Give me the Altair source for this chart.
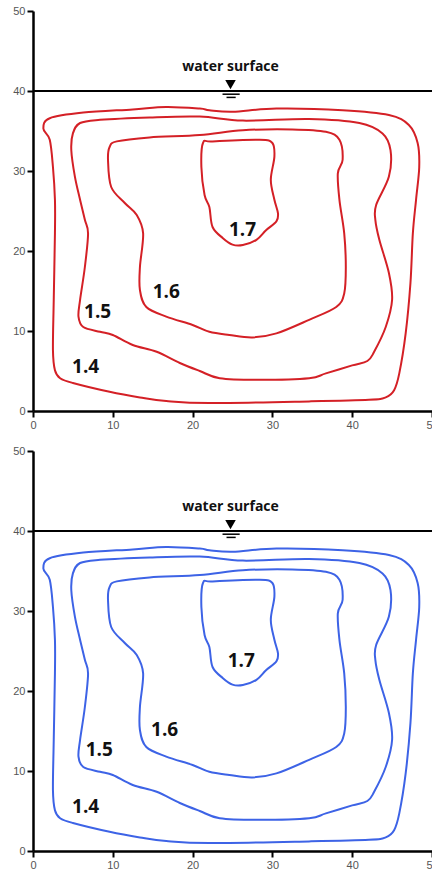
import altair as alt
import pandas as pd

# ---- data ----
ticks = [0, 5, 10, 15, 20, 25, 30, 35, 40, 45, 50]

c14_x = [1.3, 2.1, 6.3, 12.5, 16.7, 20.9, 22.1, 25.0, 30.5, 38.8, 44.6, 47.1, 48.2, 48.4, 48.0, 47.6, 47.3, 46.7, 45.9, 45.25, 44.2, 42.1, 34.6, 22.1, 16.7, 13.4, 9.6, 5.0, 3.4, 2.75, 2.5, 2.6, 2.75, 2.75, 2.5, 2.1]
c14_y = [35.3, 36.6, 37.3, 37.7, 38.0, 37.8, 37.6, 37.4, 37.8, 37.6, 37.0, 35.75, 33.5, 30.5, 26.4, 22.2, 16.0, 9.7, 4.7, 2.6, 1.7, 1.4, 1.2, 1.0, 1.25, 1.7, 2.4, 3.5, 4.1, 5.1, 7.6, 13.9, 22.25, 26.4, 30.5, 33.9]

c15_x = [5.0, 5.9, 8.4, 14.6, 20.9, 26.3, 34.6, 40.9, 43.8, 44.8, 44.6, 43.0, 42.9, 43.4, 44.6, 45.0, 44.2, 42.75, 41.9, 40.0, 36.7, 34.6, 28.4, 23.4, 20.9, 18.4, 15.5, 12.5, 10.0, 8.4, 6.3, 5.7, 5.9, 6.5, 6.9, 6.5, 5.9, 5.25, 4.8]
c15_y = [34.7, 36.0, 36.4, 36.7, 36.8, 36.3, 36.5, 36.0, 34.7, 32.6, 29.3, 25.75, 23.9, 21.4, 17.25, 13.9, 10.5, 7.4, 6.25, 5.7, 4.7, 4.1, 3.9, 4.1, 5.0, 6.0, 7.4, 8.25, 9.5, 9.9, 10.5, 11.8, 13.9, 18.0, 22.2, 23.9, 26.4, 29.3, 32.6]

c16_x = [9.6, 10.5, 14.6, 20.9, 26.3, 32.5, 36.7, 38.4, 38.8, 38.2, 38.4, 39.0, 39.2, 39.0, 38.0, 34.6, 30.5, 27.5, 24.6, 22.1, 20.0, 16.7, 14.2, 13.4, 13.4, 13.8, 13.0, 11.5, 9.8, 9.4]
c16_y = [33.0, 33.7, 34.2, 34.5, 35.1, 35.2, 34.9, 33.9, 31.4, 29.7, 26.4, 22.2, 18.0, 14.7, 13.0, 11.4, 9.7, 9.2, 9.5, 9.9, 10.75, 11.8, 13.0, 15.1, 18.0, 22.2, 24.5, 26.0, 28.0, 31.4]

c17_x = [21.3, 22.5, 28.4, 30.0, 30.25, 29.8, 30.25, 30.7, 30.5, 29.2, 28.0, 26.3, 25.0, 23.8, 22.5, 22.1, 21.5, 21.1]
c17_y = [33.5, 33.7, 33.9, 33.5, 31.8, 28.9, 26.4, 24.7, 23.7, 22.6, 21.4, 20.75, 20.8, 21.6, 23.0, 25.5, 27.0, 30.5]

levels = ["1.4", "1.5", "1.6", "1.7"]

top_label_x = [6.6, 8.1, 16.7, 26.25]
top_label_y = [5.5, 12.4, 14.9, 22.6]
bot_label_x = [6.6, 8.3, 16.5, 26.1]
bot_label_y = [5.5, 12.6, 15.1, 23.7]

surface_level = 40
surface_text = "water surface"

# ---- tables ----
rows = []
for lev, xs, ys in zip(levels, [c14_x, c15_x, c16_x, c17_x], [c14_y, c15_y, c16_y, c17_y]):
    for i, (x, y) in enumerate(zip(xs, ys)):
        rows.append({"level": lev, "order": i, "x": x, "y": y})
contours = pd.DataFrame(rows)

xscale = alt.Scale(domain=[0, 50], nice=False, zero=False)
yscale = alt.Scale(domain=[0, 50], nice=False, zero=False)
xaxis = alt.Axis(values=ticks, title=None, labelFlush=False)
yaxis = alt.Axis(values=ticks, title=None, minExtent=28)


def panel(color, lab_x, lab_y):
    lines = alt.Chart(contours).mark_line(
        interpolate="cardinal-closed", strokeWidth=2, color=color
    ).encode(
        x=alt.X("x:Q", scale=xscale, axis=xaxis),
        y=alt.Y("y:Q", scale=yscale, axis=yaxis),
        detail="level:N",
        order="order:Q",
    )
    surface = alt.Chart(pd.DataFrame({"y": [surface_level]})).mark_rule(
        color="black", strokeWidth=2
    ).encode(x=alt.datum(0), x2=alt.datum(50), y="y:Q")
    tri = alt.Chart(pd.DataFrame({"x": [24.75], "y": [40.8]})).mark_point(
        shape="triangle-down", filled=True, color="black", size=110, opacity=1
    ).encode(x="x:Q", y="y:Q")
    wl = alt.Chart(pd.DataFrame({"x": [23.75, 24.25], "x2": [25.9, 25.4], "y": [39.6, 39.2]})).mark_rule(
        color="black", strokeWidth=1.5
    ).encode(x="x:Q", x2="x2:Q", y="y:Q")
    stext = alt.Chart(pd.DataFrame({"x": [24.75], "y": [43.0], "t": [surface_text]})).mark_text(
        font="Open Sans", fontWeight="bold", fontSize=14, color="#111", baseline="middle", align="center"
    ).encode(x="x:Q", y="y:Q", text="t:N")
    labels = alt.Chart(pd.DataFrame({"x": lab_x, "y": lab_y, "t": levels})).mark_text(
        font="Open Sans", fontWeight="bold", fontSize=19, color="#111", baseline="middle", align="center"
    ).encode(x="x:Q", y="y:Q", text="t:N")
    return alt.layer(lines, surface, tri, wl, stext, labels).properties(width=399, height=400)


top = panel("#d42026", top_label_x, top_label_y)
bottom = panel("#3d63e6", bot_label_x, bot_label_y)

chart = alt.vconcat(top, bottom, spacing=15).properties(
    padding={"left": 5, "top": 5, "right": -7, "bottom": 0}
).configure_axis(
    domainColor="black", domainWidth=2.5, tickColor="black", tickWidth=2, tickSize=6,
    labelColor="#555", labelFont="Liberation Sans", labelFontSize=11, labelPadding=2, grid=False
).configure_view(stroke=None)

chart.save("out.html", embed_options={"renderer": "svg", "actions": False})
